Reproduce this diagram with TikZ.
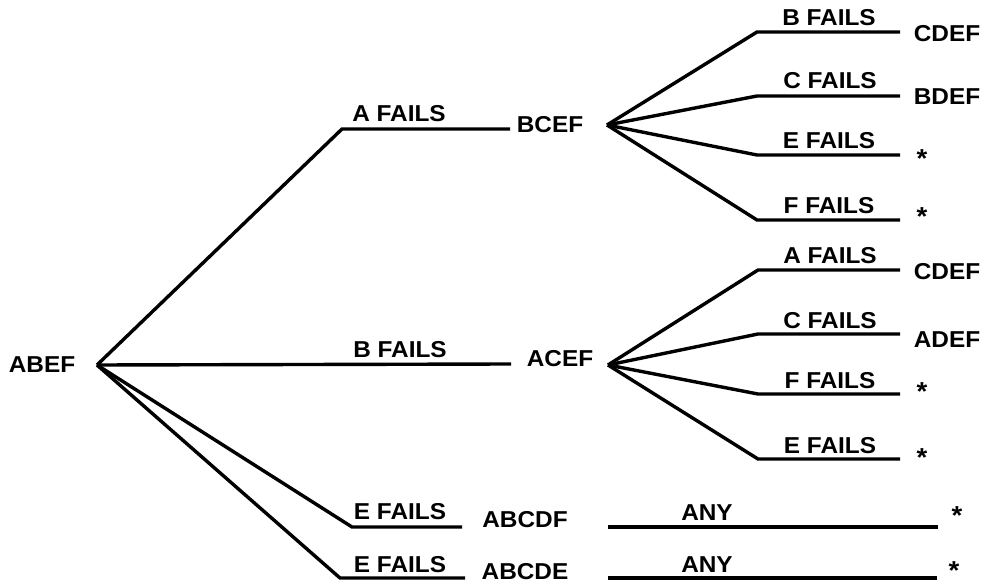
\documentclass[tikz,border=0pt]{standalone}
\usepackage{fontspec}
\setmainfont[FakeStretch=1.06]{Liberation Sans}
\begin{document}
\begin{tikzpicture}[x=1pt, y=-1pt,
  lbl/.style={font=\fontsize{23}{23}\selectfont\bfseries, inner sep=0pt},
  starmark/.style={font=\fontsize{26}{26}\selectfont\bfseries, inner sep=0pt, anchor=north},
  branch/.style={draw, line width=3.4pt}]
\useasboundingbox (0,0) rectangle (989,585);

% root state
\node[lbl] (abef) at (42,365) {ABEF};
\coordinate (r) at (97,365);

% first failure: A
\coordinate (a1) at (342,129);
\coordinate (a2) at (510,129);
\path[branch] (r) -- (a1) -- (a2);
\node[lbl] (afails) at (399,114) {A FAILS};
\node[lbl] (bcef) at (550,125) {BCEF};
\coordinate (u) at (607,125);

% first failure: B
\coordinate (b2) at (511,364);
\path[branch] (r) -- (b2);
\node[lbl] (bfails) at (400,350) {B FAILS};
\node[lbl] (acef) at (560,359) {ACEF};
\coordinate (l) at (608,365);

% first failure: E (two cases)
\coordinate (e1a) at (352,527);
\coordinate (e1b) at (462,527);
\path[branch] (r) -- (e1a) -- (e1b);
\node[lbl] (e1fails) at (400,512) {E FAILS};
\node[lbl] (abcdf) at (525,520) {ABCDF};
\coordinate (any1a) at (608,527);
\coordinate (any1b) at (938,527);
\path[branch] (any1a) -- (any1b);
\node[lbl] (any1) at (707,513) {ANY};
\node[starmark] (s1) at (957,506) {*};

\coordinate (e2a) at (340,578);
\coordinate (e2b) at (465,578);
\path[branch] (r) -- (e2a) -- (e2b);
\node[lbl] (e2fails) at (400,565) {E FAILS};
\node[lbl] (abcde) at (525,572) {ABCDE};
\coordinate (any2a) at (608,578);
\coordinate (any2b) at (937,578);
\path[branch] (any2a) -- (any2b);
\node[lbl] (any2) at (707,565) {ANY};
\node[starmark] (s2) at (954,561) {*};

% second failures after A
\coordinate (ub1) at (757,32);  \coordinate (ub2) at (900,32);
\coordinate (uc1) at (757,96);  \coordinate (uc2) at (900,96);
\coordinate (ue1) at (757,155); \coordinate (ue2) at (900,155);
\coordinate (uf1) at (757,220); \coordinate (uf2) at (900,220);
\path[branch] (u) -- (ub1) -- (ub2);
\path[branch] (u) -- (uc1) -- (uc2);
\path[branch] (u) -- (ue1) -- (ue2);
\path[branch] (u) -- (uf1) -- (uf2);
\node[lbl] (ubf) at (829,18) {B FAILS};
\node[lbl] (ucf) at (830,81) {C FAILS};
\node[lbl] (uef) at (829,141) {E FAILS};
\node[lbl] (uff) at (829,206) {F FAILS};
\node[lbl] (cdef1) at (947,34) {CDEF};
\node[lbl] (bdef) at (947,97) {BDEF};
\node[starmark] (s3) at (922,149) {*};
\node[starmark] (s4) at (922,207) {*};

% second failures after B
\coordinate (la1) at (758,270); \coordinate (la2) at (900,270);
\coordinate (lc1) at (758,334); \coordinate (lc2) at (900,334);
\coordinate (lf1) at (758,394); \coordinate (lf2) at (900,394);
\coordinate (le1) at (758,459); \coordinate (le2) at (900,459);
\path[branch] (l) -- (la1) -- (la2);
\path[branch] (l) -- (lc1) -- (lc2);
\path[branch] (l) -- (lf1) -- (lf2);
\path[branch] (l) -- (le1) -- (le2);
\node[lbl] (laf) at (830,256) {A FAILS};
\node[lbl] (lcf) at (830,321) {C FAILS};
\node[lbl] (lff) at (830,381) {F FAILS};
\node[lbl] (lef) at (830,446) {E FAILS};
\node[lbl] (cdef2) at (947,272) {CDEF};
\node[lbl] (adef) at (947,340) {ADEF};
\node[starmark] (s5) at (922,382) {*};
\node[starmark] (s6) at (922,448) {*};
\end{tikzpicture}
\end{document}
